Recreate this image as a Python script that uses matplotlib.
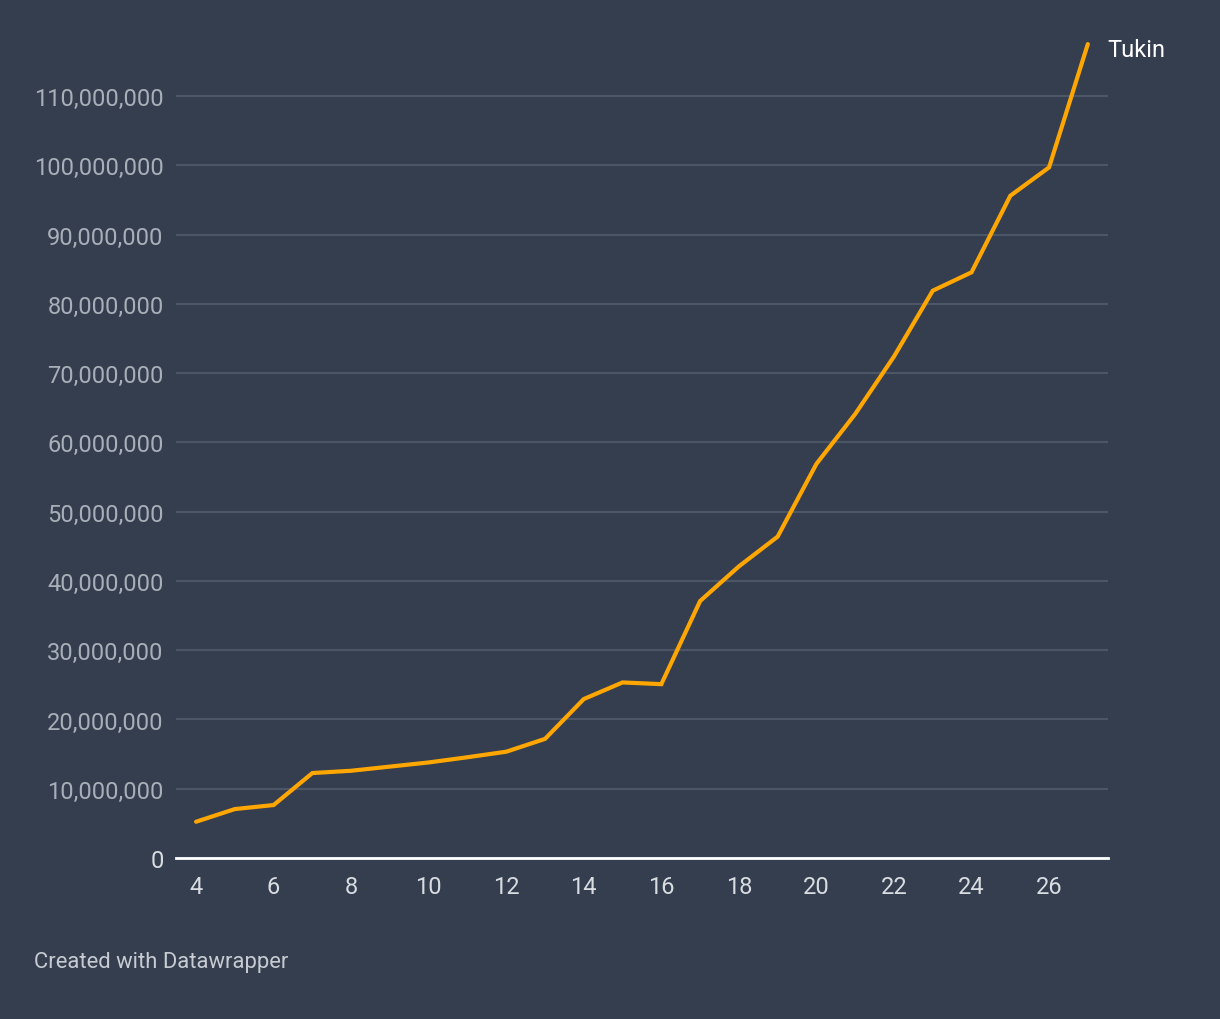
import matplotlib
matplotlib.use('Agg')
import matplotlib.pyplot as plt
from matplotlib.ticker import FuncFormatter

# Data
years = list(range(4, 28))
tukin = [5.24e6, 7.07e6, 7.65e6, 12.27e6, 12.6e6, 13.2e6, 13.8e6, 14.55e6,
         15.35e6, 17.2e6, 22.95e6, 25.35e6, 25.1e6, 37.1e6, 42.1e6, 46.4e6,
         56.9e6, 64.1e6, 72.4e6, 81.9e6, 84.55e6, 95.6e6, 99.7e6, 117.5e6]
series_name = 'Tukin'
xticks = list(range(4, 27, 2))
yticks = [i * 10_000_000 for i in range(12)]

bg = '#343e4f'
plt.rcParams['font.family'] = ['Roboto', 'DejaVu Sans']

fig = plt.figure(figsize=(12.2, 10.2), dpi=100, facecolor=bg)
ax = fig.add_axes([0.1443, 0.1578, 0.7639, 0.8014], facecolor=bg)

ax.plot(years, tukin, color='#ffa600', lw=3, solid_capstyle='round',
        solid_joinstyle='miter', zorder=3)
ax.annotate(series_name, (years[-1], tukin[-1]), xytext=(14, -4),
            textcoords='offset points', color='white', fontsize=17,
            va='center', ha='left')

ax.set_xlim(3.484, 27.52)
ax.set_ylim(0, 118e6)
ax.set_xticks(xticks)
ax.set_yticks(yticks)
ax.yaxis.set_major_formatter(FuncFormatter(lambda v, p: f'{int(v):,}'))

ax.grid(axis='y', color='#4d5666', lw=1.5)
ax.set_axisbelow(True)
for s in ['top', 'right', 'left']:
    ax.spines[s].set_visible(False)
ax.spines['bottom'].set_color('white')
ax.spines['bottom'].set_linewidth(2)
ax.spines['bottom'].set_zorder(4)

ax.tick_params(axis='y', length=0, pad=9, labelsize=17, labelcolor='#a9afb8')
ax.tick_params(axis='x', length=0, pad=12, labelsize=17, labelcolor='#d9dce1')
ax.get_yticklabels()[0].set_color('#d9dce1')

fig.text(34 / 1220, 1 - 963 / 1020, 'Created with Datawrapper', color='#c8ccd2',
         fontsize=15.8, va='center', ha='left')

fig.savefig('out.png', dpi=100, facecolor=bg)
